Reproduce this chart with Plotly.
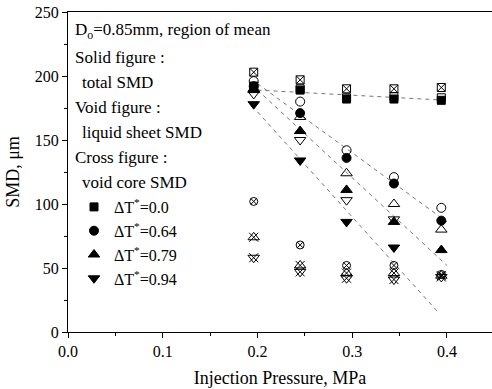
import plotly.graph_objects as go

# ---- data ----
pressure = [0.196, 0.245, 0.294, 0.344, 0.394]

labels = ["ΔT<sup>*</sup>=0.0", "ΔT<sup>*</sup>=0.64", "ΔT<sup>*</sup>=0.79", "ΔT<sup>*</sup>=0.94"]

total_00 = [192, 189, 182, 182, 181]
sheet_00 = [192, 190, 183, 184, 183]
core_00 = [203, 197, 190, 190, 191]

total_064 = [192, 171, 136, 116, 87]
sheet_064 = [196, 180, 142, 121, 97]
core_064 = [102, 68, 52, 52, 45]

total_079 = [189, 157, 111, 86, 64]
sheet_079 = [190, 168, 124, 100, 80]
core_079 = [74, 52, 46, 46, 44]

total_094 = [178, 134, 86, 66, None]
sheet_094 = [186, 150, 103, 88, None]
core_094 = [58, 47, 42, 41, 43]

# trend (dashed) lines: start/end points
trend_x0 = [0.20, 0.20, 0.20, 0.20]
trend_x1 = [0.40, 0.40, 0.40, 0.39]
trend_y0 = [189, 194, 189, 172]
trend_y1 = [181, 86, 52, 16]

x_ticks = [0.0, 0.1, 0.2, 0.3, 0.4]
y_ticks = [0, 50, 100, 150, 200, 250]

FONT = "Liberation Serif"

W_LEFT, W_PLOT = 68, 424
H_TOP, H_PLOT = 12, 320

fig = go.Figure()

# dashed trend lines
for x0, x1, y0, y1 in zip(trend_x0, trend_x1, trend_y0, trend_y1):
    fig.add_trace(go.Scatter(x=[x0, x1], y=[y0, y1], mode="lines",
                             line=dict(color="#777777", width=1, dash="4px,4px"),
                             showlegend=False, hoverinfo="skip"))

def pts(y, symbol, size=9, name=None, legend=False):
    fig.add_trace(go.Scatter(x=pressure, y=y, mode="markers", name=name,
                             showlegend=legend,
                             marker=dict(symbol=symbol, size=size, color="black",
                                         line=dict(color="black", width=1))))

# void core (crossed)
pts(core_00, "square-x-open", 8)
pts(core_064, "circle-x-open", 8)
pts(core_079, "triangle-up-open", 10)
pts(core_079, "x-thin-open", 9)
pts(core_094, "triangle-down-open", 10)
pts(core_094, "x-thin-open", 9)

# liquid sheet (open)
pts(sheet_00, "square-open", 8)
pts(sheet_064, "circle-open", 9)
pts(sheet_079, "triangle-up-open", 10)
pts(sheet_094, "triangle-down-open", 10)

# total (solid) - legend entries
pts(total_00, "square", 8, labels[0], True)
pts(total_064, "circle", 9, labels[1], True)
pts(total_079, "triangle-up", 10, labels[2], True)
pts(total_094, "triangle-down", 10, labels[3], True)

# text block (positions in reference pixels)
text_lines = [
    ("D<sub>o</sub>=0.85mm, region of mean", 31, 0),
    ("Solid figure :", 57, 0),
    ("total SMD", 82, 7),
    ("Void figure :", 107, 0),
    ("liquid sheet SMD", 132, 7),
    ("Cross figure :", 157, 0),
    ("void core SMD", 182, 7),
]
for txt, py, indent in text_lines:
    fig.add_annotation(text=txt, xref="paper", yref="paper",
                       x=(73 + indent - W_LEFT) / W_PLOT,
                       y=1 - (py - H_TOP) / H_PLOT,
                       xanchor="left", yanchor="middle", showarrow=False,
                       font=dict(family=FONT, size=17, color="black"))

fig.update_layout(
    width=492, height=389,
    margin=dict(l=W_LEFT, r=0, t=H_TOP, b=57, pad=0),
    paper_bgcolor="white", plot_bgcolor="white",
    font=dict(family=FONT, size=16, color="black"),
    legend=dict(x=(74 - W_LEFT) / W_PLOT, y=1 - (190 - H_TOP) / H_PLOT,
                xanchor="left", yanchor="top",
                bgcolor="rgba(0,0,0,0)", borderwidth=0,
                font=dict(family=FONT, size=16, color="black"),
                tracegroupgap=0),
    xaxis=dict(range=[0, 0.4475], tickvals=x_ticks,
               ticktext=[f"{v:.1f}" for v in x_ticks],
               showgrid=False, zeroline=False,
               showline=True, linecolor="black", linewidth=1, mirror=True,
               ticks="outside", ticklen=5, tickcolor="black",
               minor=dict(dtick=0.05, tick0=0, ticks="outside", ticklen=3, tickcolor="black"),
               title=dict(text="Injection Pressure, MPa", font=dict(family=FONT, size=18), standoff=12),
               tickfont=dict(family=FONT, size=16)),
    yaxis=dict(range=[0, 250], tickvals=y_ticks,
               showgrid=False, zeroline=False,
               showline=True, linecolor="black", linewidth=1,
               ticks="outside", ticklen=5, tickcolor="black",
               minor=dict(dtick=25, tick0=0, ticks="outside", ticklen=3, tickcolor="black"),
               title=dict(text="SMD, μm", font=dict(family=FONT, size=18), standoff=10),
               tickfont=dict(family=FONT, size=16)),
)

fig.write_html("out.html", config={"displayModeBar": False},
               post_script="document.body.style.margin='0';")
